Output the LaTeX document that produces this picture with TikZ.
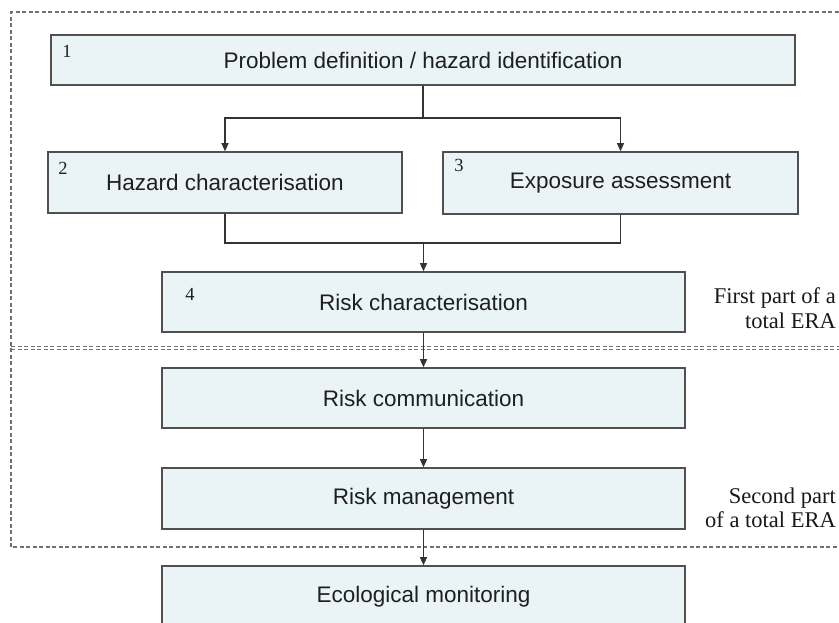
\documentclass[tikz,border=0pt]{standalone}
\usepackage{fontspec}
\setmainfont{Liberation Serif}
\newfontfamily\boxfont{Liberation Sans}
\usetikzlibrary{arrows.meta}
\definecolor{boxfill}{HTML}{EAF4F6}
\definecolor{boxline}{HTML}{505050}
\definecolor{dashcol}{HTML}{707070}
\definecolor{conn}{HTML}{333333}
\begin{document}
\begin{tikzpicture}[x=1pt,y=-1pt,
  stepbox/.style={draw=boxline, fill=boxfill, line width=1.6pt, inner sep=0pt,
    font=\boxfont\fontsize{22.5}{26}\selectfont, text=black!88},
  numlabel/.style={font=\fontsize{18.5}{20}\selectfont, inner sep=0pt, text=black!88},
  sidelabel/.style={font=\fontsize{22.5}{24.5}\selectfont, align=right, inner sep=0pt, anchor=east, text=black!90},
  dashline/.style={draw=dashcol, line width=1.2pt, dash pattern=on 4pt off 2.5pt},
  conline/.style={draw=conn, line width=1.1pt},
  arr/.style={conline, -{Triangle[length=8pt,width=7pt]}}]
\useasboundingbox (0,0) rectangle (839,622);
\clip (0,0) rectangle (839,622);

% dashed regions
\draw[dashline] (845,12) -- (11,12) -- (11,547) -- (845,547);
\draw[dashline] (11,346.5) -- (845,346.5);
\draw[dashline] (11,349.5) -- (845,349.5);

% boxes
\node[stepbox, minimum width=744pt, minimum height=50pt] (p1) at (423,60) {Problem definition / hazard identification};
\node[stepbox, minimum width=354pt, minimum height=61pt] (hz) at (225,182.5) {Hazard characterisation};
\node[stepbox, minimum width=355pt, minimum height=62pt] (ex) at (620.5,183) {Exposure assessment};
\node[stepbox, minimum width=523pt, minimum height=60pt] (rc) at (423.5,302) {Risk characterisation};
\node[stepbox, minimum width=523pt, minimum height=60pt] (rcom) at (423.5,398) {Risk communication};
\node[stepbox, minimum width=523pt, minimum height=61pt] (rm) at (423.5,498.5) {Risk management};
\node[stepbox, minimum width=523pt, minimum height=62pt] (em) at (423.5,597) {Ecological monitoring};

% numbers
\node[numlabel] (n1) at (67,51) {1};
\node[numlabel] (n2) at (63,168) {2};
\node[numlabel] (n3) at (459,165) {3};
\node[numlabel] (n4) at (190,294) {4};

% side labels
\node[sidelabel] (s1) at (836,308) {First part of a\\total ERA};
\node[sidelabel] (s2) at (836,508) {Second part\\of a total ERA};

% connectors
\coordinate (split) at (p1.south |- 0,118);
\coordinate (merge) at (rc.north |- 0,243);
\draw[conline] (p1.south) -- (split);
\draw[arr] (split) -| (hz.north);
\draw[arr] (split) -| (ex.north);
\draw[conline] (hz.south) |- (merge);
\draw[conline] (ex.south) |- (merge);
\draw[arr] (merge) -- (rc.north);
\draw[arr] (rc.south) -- (rcom.north);
\draw[arr] (rcom.south) -- (rm.north);
\draw[arr] (rm.south) -- (em.north);
\end{tikzpicture}
\end{document}
